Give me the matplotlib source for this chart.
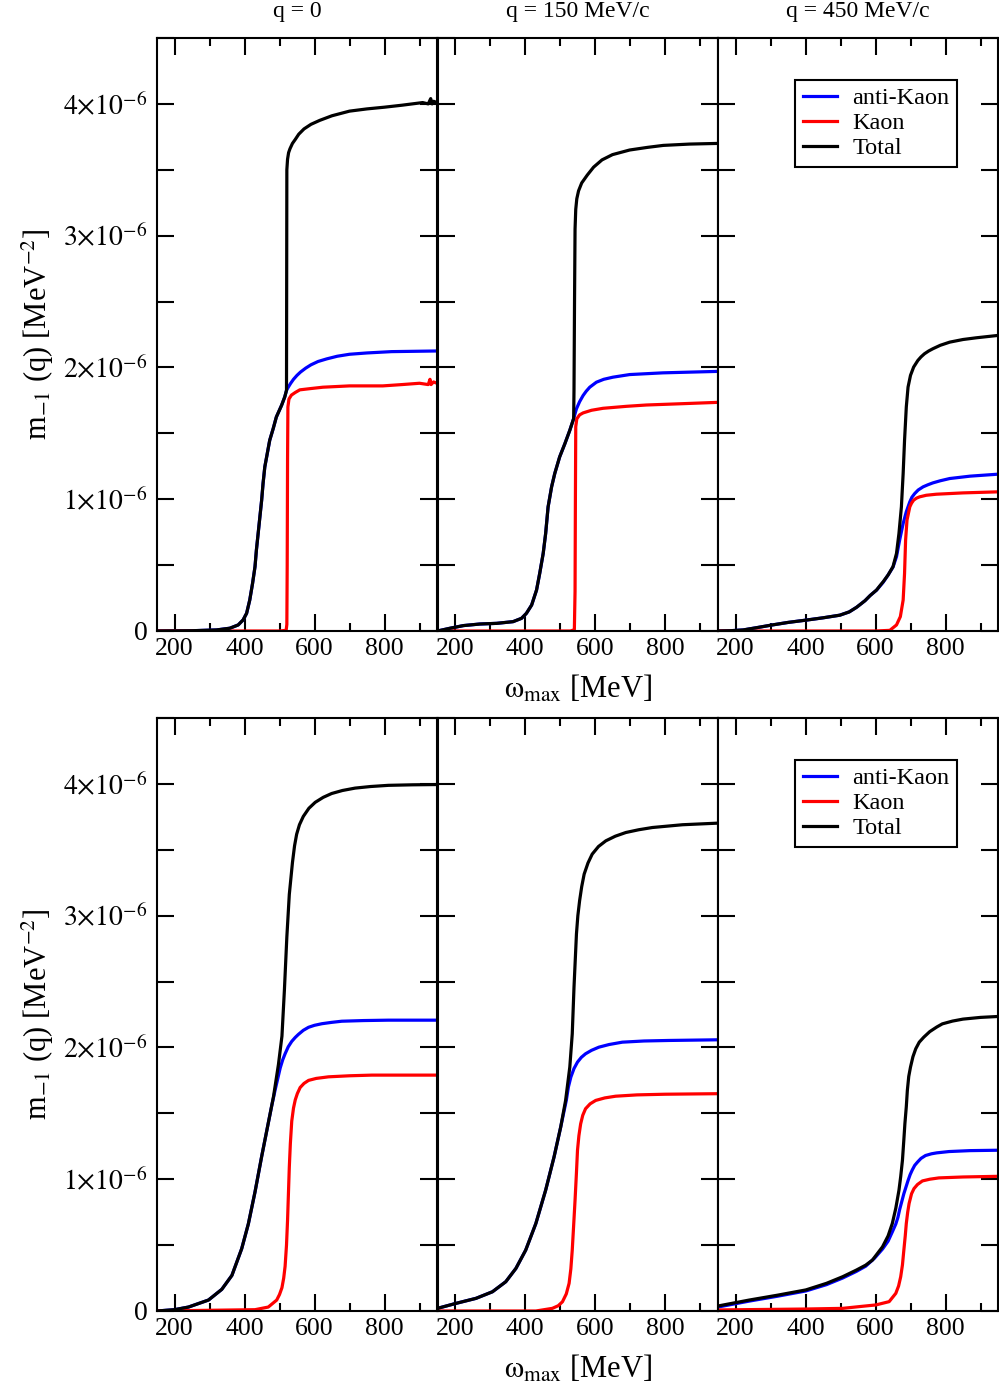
import matplotlib
matplotlib.use("Agg")
import matplotlib.pyplot as plt
from matplotlib.ticker import MultipleLocator, FuncFormatter

plt.rcParams["font.family"] = ["Liberation Serif", "DejaVu Serif"]
plt.rcParams["mathtext.fontset"] = "stix"

titles = ["q = 0", "q = 150 MeV/c", "q = 450 MeV/c"]
series_names = ["anti-Kaon", "Kaon", "Total"]
series_colors = ["#0000ff", "#ff0000", "#000000"]

# ---- top row, q = 0   (omega_max in MeV, m_-1 in units of 1e-6 MeV^-2)
r1q0_ak_x = [150, 250, 320, 358, 382, 396, 406, 415, 423, 430, 434, 439, 444, 449, 453, 458, 465, 472, 482, 491, 506, 515, 520,
             525, 532, 540, 550, 560, 575, 590, 610, 635, 665, 700, 750, 820, 950]
r1q0_ak_y = [0, 0.002, 0.008, 0.021, 0.046, 0.084, 0.134, 0.235, 0.361, 0.488, 0.614, 0.74, 0.867, 0.993, 1.119, 1.245, 1.346, 1.447, 1.536, 1.624, 1.713, 1.776, 1.826,
             1.85, 1.88, 1.91, 1.94, 1.965, 1.995, 2.02, 2.045, 2.065, 2.085, 2.10, 2.11, 2.12, 2.125]
r1q0_k_x = [150, 500, 519, 521, 522, 523, 524, 527, 534, 545, 558, 590, 624, 700, 795, 850, 900, 925, 930, 933, 940, 950]
r1q0_k_y = [0, 0, 0.005, 0.05, 0.5, 1.3, 1.70, 1.76, 1.79, 1.81, 1.83, 1.84, 1.85, 1.86, 1.86, 1.87, 1.88, 1.87, 1.91, 1.87, 1.89, 1.88]
r1q0_tot_x = [150, 250, 320, 358, 382, 396, 406, 415, 423, 430, 434, 439, 444, 449, 453, 458, 465, 472, 482, 491, 506, 515, 520,
              521, 523, 526, 530, 537, 545, 555, 570, 590, 615, 650, 700, 750, 800, 850, 909, 925, 932, 936, 940, 950]
r1q0_tot_y = [0, 0.002, 0.008, 0.021, 0.046, 0.084, 0.134, 0.235, 0.361, 0.488, 0.614, 0.74, 0.867, 0.993, 1.119, 1.245, 1.346, 1.447, 1.536, 1.624, 1.713, 1.776, 1.826,
              3.50, 3.58, 3.63, 3.66, 3.70, 3.73, 3.77, 3.81, 3.845, 3.875, 3.91, 3.945, 3.962, 3.975, 3.99, 4.01, 4.00, 4.04, 4.00, 4.02, 4.01]

# ---- top row, q = 150 MeV/c
r1q150_ak_x = [150, 186, 224, 271, 319, 366, 390, 404, 419, 433, 442, 452, 459, 466, 476, 485, 499, 514, 528, 539,
               547, 556, 566, 575, 585, 604, 625, 651, 699, 794, 950]
r1q150_ak_y = [0, 0.021, 0.041, 0.053, 0.058, 0.071, 0.096, 0.134, 0.197, 0.311, 0.437, 0.589, 0.74, 0.942, 1.094, 1.195, 1.321, 1.422, 1.523, 1.612,
               1.686, 1.74, 1.787, 1.82, 1.85, 1.888, 1.91, 1.926, 1.946, 1.959, 1.97]
r1q150_k_x = [150, 530, 541, 543, 544, 545, 548, 556, 566, 590, 623, 690, 747, 850, 950]
r1q150_k_y = [0, 0, 0.01, 0.3, 1.0, 1.55, 1.61, 1.64, 1.655, 1.675, 1.69, 1.705, 1.715, 1.725, 1.735]
r1q150_tot_x = [150, 186, 224, 271, 319, 366, 390, 404, 419, 433, 442, 452, 459, 466, 476, 485, 499, 514, 528, 539,
                540, 541.5, 543, 545, 548, 553, 562, 578, 596, 620, 650, 699, 750, 795, 870, 950]
r1q150_tot_y = [0, 0.021, 0.041, 0.053, 0.058, 0.071, 0.096, 0.134, 0.197, 0.311, 0.437, 0.589, 0.74, 0.942, 1.094, 1.195, 1.321, 1.422, 1.523, 1.612,
                1.825, 2.5, 3.05, 3.20, 3.28, 3.34, 3.40, 3.46, 3.52, 3.575, 3.615, 3.65, 3.67, 3.685, 3.695, 3.70]

# ---- top row, q = 450 MeV/c
r1q450_ak_x = [150, 185, 222, 260, 303, 350, 403, 450, 498, 525, 546, 570, 585, 603, 622, 636, 650, 660, 669, 679, 688, 698,
               704, 712, 722, 736, 750, 764, 785, 812, 870, 950]
r1q450_ak_y = [0, 0.002, 0.008, 0.025, 0.045, 0.065, 0.083, 0.10, 0.12, 0.145, 0.18, 0.23, 0.27, 0.31, 0.37, 0.425, 0.485, 0.564, 0.69, 0.816, 0.905, 0.98,
               1.015, 1.043, 1.07, 1.094, 1.11, 1.124, 1.14, 1.157, 1.175, 1.19]
r1q450_k_x = [150, 600, 641, 660, 671, 679, 683, 686, 690, 698, 703, 709, 717, 726, 745, 774, 850, 950]
r1q450_k_y = [0, 0, 0.005, 0.046, 0.109, 0.235, 0.437, 0.69, 0.841, 0.942, 0.97, 0.993, 1.008, 1.018, 1.03, 1.038, 1.048, 1.056]
r1q450_tot_x = [150, 185, 222, 260, 303, 350, 403, 450, 498, 525, 546, 570, 585, 603, 613, 622, 636, 650, 660, 667, 674, 679, 683, 688, 693,
                700, 709, 721, 730, 740, 752, 764, 785, 812, 850, 888, 950]
r1q450_tot_y = [0, 0.002, 0.008, 0.025, 0.045, 0.065, 0.083, 0.10, 0.12, 0.145, 0.18, 0.23, 0.27, 0.311, 0.345, 0.374, 0.425, 0.488, 0.589, 0.74, 0.942, 1.195, 1.447, 1.70, 1.851,
                1.94, 2.003, 2.053, 2.08, 2.104, 2.125, 2.142, 2.168, 2.192, 2.212, 2.225, 2.243]

# ---- bottom row, q = 0
r2q0_ak_x = [150, 200, 240, 297, 335, 364, 392, 411, 430, 449, 468, 478, 488, 502,
             509, 516, 525, 535, 545, 554, 568, 583, 600, 621, 648, 678, 740, 811, 950]
r2q0_ak_y = [0, 0.01, 0.03, 0.083, 0.164, 0.27, 0.473, 0.661, 0.903, 1.172, 1.427, 1.56, 1.683, 1.844,
             1.905, 1.952, 2.005, 2.046, 2.076, 2.099, 2.13, 2.153, 2.168, 2.18, 2.19, 2.199, 2.204, 2.207, 2.207]
r2q0_k_x = [150, 430, 468, 492, 500, 507, 512, 516, 520, 523, 528, 531, 535, 540, 545, 551, 559, 570, 583, 605, 640, 700, 764, 950]
r2q0_k_y = [0, 0.01, 0.03, 0.083, 0.125, 0.177, 0.25, 0.339, 0.5, 0.688, 1.09, 1.27, 1.441, 1.54, 1.602, 1.65, 1.696, 1.727, 1.75, 1.765, 1.777, 1.785, 1.79, 1.79]
r2q0_tot_x = [150, 200, 240, 297, 335, 364, 392, 411, 430, 449, 468, 483, 497, 507, 514, 521, 528, 537,
              543, 549, 557, 568, 584, 602, 625, 649, 680, 716, 760, 811, 880, 950]
r2q0_tot_y = [0, 0.01, 0.03, 0.083, 0.164, 0.27, 0.473, 0.661, 0.903, 1.172, 1.427, 1.629, 1.871, 2.086, 2.435, 2.839, 3.161, 3.403,
              3.53, 3.618, 3.69, 3.753, 3.815, 3.86, 3.898, 3.927, 3.95, 3.968, 3.98, 3.989, 3.993, 3.995]

# ---- bottom row, q = 150 MeV/c
r2q150_ak_x = [150, 203, 260, 307, 345, 374, 402, 431, 459, 483, 502, 518,
               524, 531, 540, 550, 561, 573, 590, 611, 640, 678, 740, 811, 950]
r2q150_ak_y = [0.02, 0.058, 0.096, 0.146, 0.222, 0.323, 0.462, 0.664, 0.917, 1.169, 1.396, 1.598,
               1.70, 1.775, 1.84, 1.889, 1.925, 1.952, 1.978, 2.002, 2.022, 2.04, 2.049, 2.053, 2.058]
r2q150_k_x = [150, 431, 478, 495, 507, 518, 526, 531, 535, 539, 543, 547, 550, 554, 559, 565, 573, 586, 602, 628, 659, 720, 800, 950]
r2q150_k_y = [0, 0, 0.02, 0.04, 0.07, 0.13, 0.21, 0.32, 0.462, 0.65, 0.84, 1.05, 1.22, 1.33, 1.42, 1.485, 1.535, 1.572, 1.598, 1.617, 1.63, 1.64, 1.645, 1.649]
r2q150_tot_x = [150, 203, 260, 307, 345, 374, 402, 431, 459, 483, 502, 516, 528, 535, 540, 547,
                551, 556, 562, 569, 580, 592, 610, 631, 658, 688, 725, 764, 850, 950]
r2q150_tot_y = [0.02, 0.058, 0.096, 0.146, 0.222, 0.323, 0.462, 0.664, 0.917, 1.169, 1.396, 1.598, 1.851, 2.103, 2.457, 2.861,
                3.0, 3.113, 3.22, 3.315, 3.40, 3.467, 3.525, 3.568, 3.603, 3.631, 3.652, 3.669, 3.69, 3.702]

# ---- bottom row, q = 450 MeV/c
r2q450_ak_x = [150, 239, 320, 401, 460, 506, 545, 572, 597, 620, 636, 648, 658, 664, 669, 675, 681, 687, 693, 699, 705,
               712, 720, 730, 743, 760, 775, 810, 870, 950]
r2q450_ak_y = [0.03, 0.075, 0.112, 0.152, 0.20, 0.25, 0.30, 0.34, 0.40, 0.47, 0.53, 0.60, 0.66, 0.71, 0.77, 0.83, 0.89, 0.94, 0.99, 1.035, 1.07,
               1.105, 1.13, 1.158, 1.18, 1.193, 1.20, 1.21, 1.217, 1.22]
r2q450_k_x = [150, 400, 506, 560, 601, 639, 658, 666, 672, 677, 681, 685, 688, 692, 696, 703, 710, 720, 734, 755, 781, 850, 950]
r2q450_k_y = [0.008, 0.015, 0.02, 0.035, 0.046, 0.071, 0.134, 0.19, 0.26, 0.35, 0.462, 0.57, 0.664, 0.75, 0.816, 0.89, 0.929, 0.96, 0.987, 1.0, 1.01, 1.017, 1.022]
r2q450_tot_x = [150, 239, 320, 401, 460, 506, 545, 572, 591, 620, 636, 648, 658, 667, 672, 677, 681, 684, 688, 691,
                695, 700, 707, 715, 725, 738, 755, 775, 791, 820, 850, 900, 950]
r2q450_tot_y = [0.038, 0.083, 0.12, 0.16, 0.21, 0.26, 0.31, 0.348, 0.386, 0.487, 0.57, 0.664, 0.78, 0.916, 1.02, 1.144, 1.30, 1.422, 1.55, 1.674,
                1.78, 1.851, 1.93, 1.99, 2.04, 2.078, 2.12, 2.155, 2.179, 2.20, 2.215, 2.228, 2.235]

rows = [
    [[(r1q0_ak_x, r1q0_ak_y), (r1q0_k_x, r1q0_k_y), (r1q0_tot_x, r1q0_tot_y)],
     [(r1q150_ak_x, r1q150_ak_y), (r1q150_k_x, r1q150_k_y), (r1q150_tot_x, r1q150_tot_y)],
     [(r1q450_ak_x, r1q450_ak_y), (r1q450_k_x, r1q450_k_y), (r1q450_tot_x, r1q450_tot_y)]],
    [[(r2q0_ak_x, r2q0_ak_y), (r2q0_k_x, r2q0_k_y), (r2q0_tot_x, r2q0_tot_y)],
     [(r2q150_ak_x, r2q150_ak_y), (r2q150_k_x, r2q150_k_y), (r2q150_tot_x, r2q150_tot_y)],
     [(r2q450_ak_x, r2q450_ak_y), (r2q450_k_x, r2q450_k_y), (r2q450_tot_x, r2q450_tot_y)]],
]

W, H = 999, 1395
fig = plt.figure(figsize=(W / 100, H / 100), dpi=100)
col_left = [157, 437.5, 718]
col_w = 280
row_top = [38, 718]
row_h = 593


def ylab(v, pos):
    if abs(v) < 1e-9:
        return "0"
    if abs(v - round(v)) > 1e-6:
        return ""
    return r"$%d{\times}10^{-6}$" % round(v)


for r, row in enumerate(rows):
    for c, panel in enumerate(row):
        ax = fig.add_axes([col_left[c] / W, 1 - (row_top[r] + row_h) / H, col_w / W, row_h / H])
        for (xs, ys), col, name in zip(panel, series_colors, series_names):
            ax.plot(xs, ys, color=col, lw=2.3, label=name, solid_joinstyle="round")
        ax.set_xlim(150, 950); ax.set_ylim(0, 4.5)
        ax.xaxis.set_major_locator(MultipleLocator(200)); ax.xaxis.set_minor_locator(MultipleLocator(100))
        ax.yaxis.set_major_locator(MultipleLocator(0.5))
        ax.tick_params(which="both", direction="in", top=True, right=True, width=1.5)
        ax.tick_params(which="major", length=12)
        ax.tick_params(which="minor", length=6)
        ax.tick_params(axis="x", labelsize=18.5, pad=5)
        ax.tick_params(axis="y", labelsize=20, pad=7)
        for s in ax.spines.values():
            s.set_linewidth(1.5)
        if c == 0:
            ax.yaxis.set_major_formatter(FuncFormatter(ylab))
        else:
            ax.set_yticklabels([])
        if c == 2:
            leg = ax.legend(loc="upper right", bbox_to_anchor=(0.853, 0.929), borderaxespad=0, fontsize=17.5,
                            frameon=True, fancybox=False, edgecolor="black", framealpha=1,
                            handlelength=1.4, handletextpad=0.65, labelspacing=0.12, borderpad=0.3)
            leg.get_frame().set_linewidth(1.5)
            for ln in leg.get_lines():
                ln.set_linewidth(2.3)
        if r == 0:
            fig.text((col_left[c] + col_w / 2) / W, 1 - 17 / H, titles[c], ha="center", va="baseline", fontsize=17)
    fig.text(578 / W, 1 - (row_top[r] + row_h + 67) / H, r"$\mathrm{\omega}_{\mathrm{max}}$ [MeV]",
             ha="center", va="baseline", fontsize=22)
    fig.text(38 / W, 1 - (row_top[r] + row_h / 2) / H, r"m$_{-1}$ (q) [MeV$^{-2}$]",
             rotation=90, ha="center", va="center", fontsize=22)

fig.savefig("out.png", dpi=100)
